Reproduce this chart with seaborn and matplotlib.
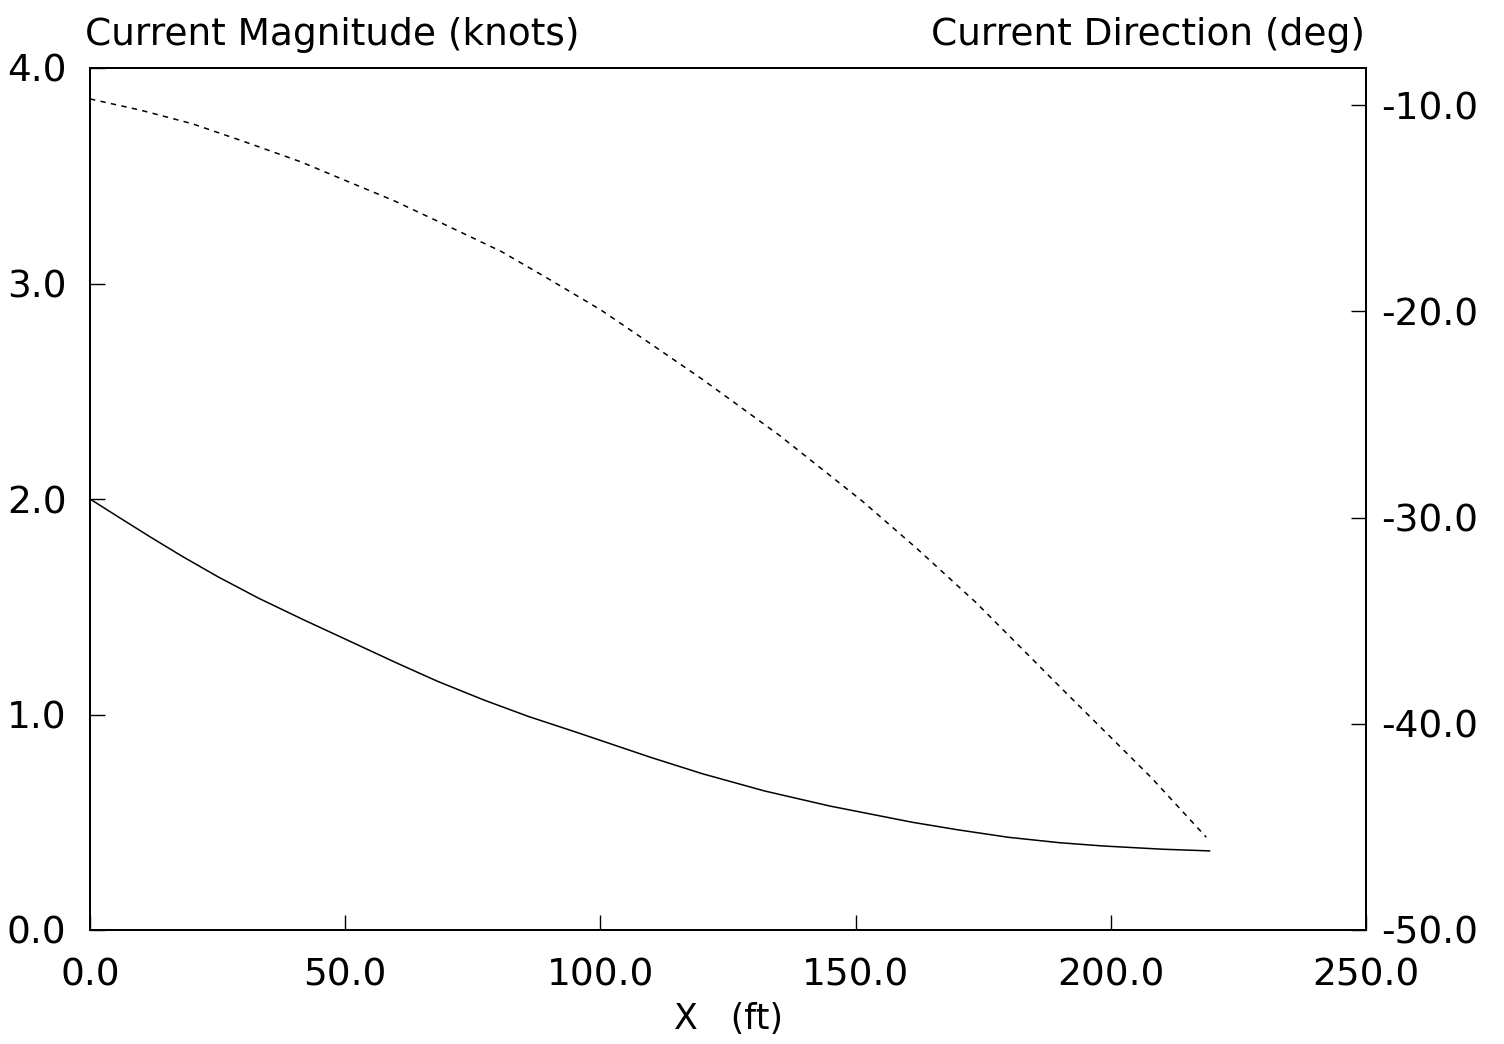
import pandas as pd
import matplotlib
matplotlib.use("Agg")
import matplotlib.pyplot as plt
import seaborn as sns

# -----------------------------
# DATA
# -----------------------------
x_mag = [0, 5, 11.8, 18, 25, 33, 41.8, 50, 60, 68, 77.2, 86, 95, 110, 120,
         132.2, 145, 161.1, 170, 180, 190, 198.4, 210, 219.4]
magnitude = [2.0, 1.925, 1.824, 1.735, 1.64, 1.54, 1.44, 1.35, 1.24, 1.155, 1.067,
             0.99, 0.92, 0.80, 0.725, 0.645, 0.575, 0.50, 0.465, 0.43, 0.405,
             0.39, 0.375, 0.367]

x_dir = [0, 10, 20, 30, 41.3, 50, 59.7, 70, 80.6, 90, 100.2, 110, 120, 135,
         151.3, 162, 173.5, 190, 207.9, 218.7]
direction = [-9.7, -10.25, -10.9, -11.75, -12.75, -13.65, -14.65, -15.85, -17.1, -18.45,
             -19.95, -21.6, -23.3, -26.0, -29.2, -31.5, -34.1, -38.2, -42.6, -45.5]

x_ticks = [0, 50, 100, 150, 200, 250]
x_labels = ["0.0", "50.0", "100.0", "150.0", "200.0", "250.0"]
mag_ticks = [0, 1, 2, 3, 4]
mag_labels = ["0.0", "1.0", "2.0", "3.0", "4.0"]
dir_ticks = [-50, -40, -30, -20, -10]
dir_labels = ["-50.0", "-40.0", "-30.0", "-20.0", "-10.0"]

df_mag = pd.DataFrame({"x": x_mag, "mag": magnitude})
df_dir = pd.DataFrame({"x": x_dir, "dir": direction})

# -----------------------------
# PLOT
# -----------------------------
sns.set_style("ticks")
plt.rcParams['font.family'] = ['DejaVu Sans']
plt.rcParams['text.color'] = 'black'
plt.rcParams['axes.labelcolor'] = 'black'
plt.rcParams['xtick.color'] = 'black'
plt.rcParams['ytick.color'] = 'black'

fig = plt.figure(figsize=(15.04, 10.44), dpi=100)
ax = fig.add_axes([90 / 1504, 114 / 1044, 1276 / 1504, 862 / 1044])
ax2 = ax.twinx()

sns.lineplot(data=df_mag, x="x", y="mag", ax=ax, color="black", linewidth=1.1)
sns.lineplot(data=df_dir, x="x", y="dir", ax=ax2, color="black", linewidth=1.1,
             linestyle=(0, (3.5, 3.5)))

ax.set_xlim(0, 250)
ax.set_ylim(0, 4)
ax2.set_ylim(-50, -8.2)

ax.set_xticks(x_ticks)
ax.set_xticklabels(x_labels)
ax.set_yticks(mag_ticks)
ax.set_yticklabels(mag_labels)
ax2.set_yticks(dir_ticks)
ax2.set_yticklabels(dir_labels)

ax.tick_params(axis="both", direction="in", length=11, width=1, labelsize=27)
ax.tick_params(axis="y", pad=17)
ax.tick_params(axis="x", pad=20)
ax2.tick_params(axis="y", direction="in", length=11, width=1, labelsize=27, pad=11)

for a in (ax, ax2):
    for s in a.spines.values():
        s.set_visible(True)
        s.set_linewidth(1.4)
        s.set_color("black")

ax.set_ylabel("")
ax2.set_ylabel("")
ax.set_xlabel("X   (ft)", fontsize=25, labelpad=6)

fig.text(85 / 1504, 1 - 45 / 1044, "Current Magnitude (knots)", fontsize=27,
         ha="left", va="baseline")
fig.text(1365 / 1504, 1 - 45 / 1044, "Current Direction (deg)", fontsize=27,
         ha="right", va="baseline")

fig.savefig("out.png", dpi=100)
